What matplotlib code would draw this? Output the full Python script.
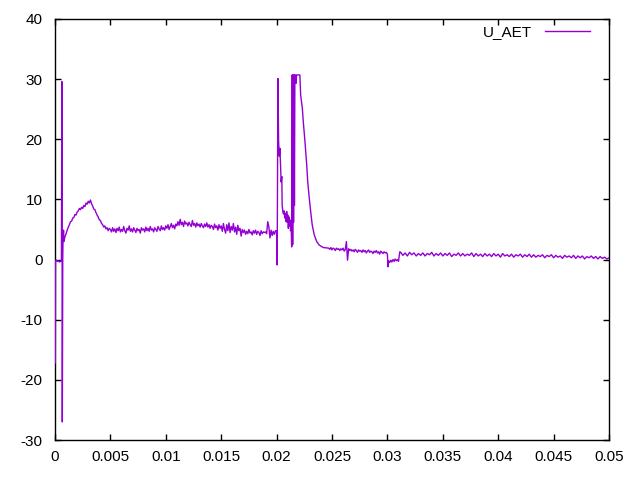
import numpy as np
import matplotlib
matplotlib.use("Agg")
import matplotlib.pyplot as plt

# ---- data ----
t_start = [0.00003, 0.00005, 0.0001, 0.0002, 0.0003, 0.0004, 0.0005, 0.00058, 0.00062, 0.00066,
           0.00070, 0.00072, 0.00077, 0.0008, 0.0009, 0.0010, 0.0011, 0.0012, 0.0013, 0.0014,
           0.0015, 0.0016, 0.0017, 0.0018, 0.0019, 0.0020, 0.0021, 0.0022, 0.0023, 0.0024,
           0.0025, 0.0026, 0.0027, 0.0028, 0.0029, 0.0030, 0.0031, 0.0032, 0.0033, 0.0034,
           0.0035, 0.0036, 0.0037, 0.0038, 0.0039, 0.0040, 0.0041, 0.0042, 0.0043, 0.0044,
           0.0045, 0.0046, 0.0047, 0.0048, 0.0049]
u_start = [-17.2, -0.2, -0.1, -0.3, -0.2, -0.4, -0.3, -0.2, 29.6, -27.0,
           0.2, 2.7, 4.9, 3.0, 3.8, 4.3, 4.9, 5.4, 5.8, 6.3,
           6.4, 6.9, 7.0, 7.5, 7.4, 7.9, 8.1, 8.5, 8.3, 8.7,
           8.5, 9.0, 8.8, 9.4, 9.2, 9.7, 9.4, 9.9, 9.3, 8.9,
           8.4, 8.3, 7.8, 7.4, 7.1, 6.6, 6.5, 6.0, 5.8, 5.4,
           5.6, 5.1, 5.3, 4.8, 5.2]

u_mid = [5.0, 4.6, 5.3, 4.7, 5.1, 4.5, 5.2, 4.8, 5.4, 4.6,
         5.0, 4.7, 5.5, 4.8, 4.4, 5.2, 4.9, 5.6, 4.7, 5.1,
         4.6, 5.3, 4.9, 4.5, 5.2, 4.8, 5.0, 4.4, 5.3, 4.9,
         5.1, 4.6, 5.4, 4.8, 5.2, 4.7, 5.5, 4.9, 5.1, 4.6,
         5.3, 5.0, 4.7, 5.5, 5.1, 4.8, 5.6, 5.0, 5.3, 4.9,
         5.6, 5.2, 5.8, 5.0, 5.5, 6.0, 5.3, 5.7, 5.1, 5.9,
         5.6, 6.3, 5.7, 6.7, 5.8, 6.2, 5.5, 6.4, 5.9, 6.1,
         5.6, 6.2, 5.8, 5.5, 6.5, 5.7, 6.0, 5.4, 6.1, 5.6,
         5.9, 5.4, 6.0, 5.6, 5.3, 5.9, 5.5, 6.1, 5.4, 5.8,
         5.2, 5.7, 5.5, 5.0, 5.9, 5.3, 5.6, 4.9, 5.8, 5.2,
         5.6, 4.7, 6.0, 5.0, 4.4, 5.8, 4.8, 6.1, 4.5, 5.5,
         4.9, 6.0, 4.6, 5.4, 4.2, 5.7, 4.8, 5.2, 3.9, 5.0,
         4.5, 4.9, 4.2, 4.7, 4.3, 5.0, 4.4, 4.6, 4.1, 4.8,
         4.4, 4.9, 4.2, 4.7, 4.5, 4.0, 4.8, 4.3, 4.6, 4.5,
         4.6, 4.3, 6.3, 5.5, 3.6, 4.9, 4.0, 4.7, 4.2, 4.8]
t_mid_range = (0.0050, 0.0199)

t_spike = [0.02000, 0.02005, 0.02012, 0.02018, 0.02024, 0.02030, 0.02036, 0.02041, 0.02047, 0.02050,
           0.02056, 0.02062, 0.02068, 0.02074, 0.02080, 0.02086, 0.02091, 0.02096, 0.02101, 0.02106,
           0.02111, 0.02116, 0.02121, 0.02126, 0.02131, 0.02136, 0.02141, 0.02145, 0.02149, 0.02153,
           0.02157, 0.02161, 0.02165, 0.02170, 0.02175, 0.02180, 0.02190, 0.02200, 0.02210, 0.02217,
           0.02232, 0.02241, 0.02256, 0.02272, 0.02281, 0.02295, 0.02308, 0.02322, 0.02340, 0.02362,
           0.02385, 0.02421, 0.02467]
u_spike = [4.8, -0.9, 30.1, 19.8, 17.2, 18.5, 15.7, 12.9, 13.8, 9.1,
           8.0, 7.6, 8.1, 6.9, 7.7, 6.3, 8.0, 6.2, 7.4, 5.2,
           7.1, 5.6, 6.6, 4.8, 5.9, 2.1, 30.7, 2.5, 30.7, 6.2,
           30.7, 9.0, 30.7, 30.7, 29.3, 30.7, 30.7, 30.7, 30.7, 27.4,
           25.2, 22.9, 19.6, 15.7, 12.9, 10.2, 7.9, 5.7, 4.1, 3.0,
           2.4, 2.0, 1.9]

u_tail1 = [1.9, 1.7, 2.0, 1.6, 1.9, 1.8, 1.5, 1.9, 1.7, 1.8,
           1.5, 1.8, 1.6, 1.9, 1.4, 1.7, 3.0, -0.1, 1.8, 1.5,
           1.7, 1.4, 1.6, 1.3, 1.7, 1.5, 1.2, 1.6, 1.4, 1.5,
           1.2, 1.6, 1.3, 1.5, 1.1, 1.4, 1.6, 1.2, 1.4, 1.3,
           1.0, 1.4, 1.2, 1.5, 1.1, 1.3, 0.9, 1.4, 1.2, 1.0,
           1.3, 1.1, 1.2, 0.9]
t_tail1_range = (0.0247, 0.0300)

t_dip = [0.03005, 0.0301, 0.0302, 0.0303, 0.0304, 0.0305, 0.0306, 0.0307, 0.0308, 0.0309, 0.0310, 0.03112]
u_dip = [-1.2, -0.2, -0.5, -0.1, -0.4, 0.0, -0.3, 0.1, -0.2, 0.0, -0.3, 1.3]

u_tail2 = [1.2, 0.7, 1.1, 0.6, 1.2, 0.8, 1.1, 0.6, 1.0, 0.7,
           1.1, 0.6, 1.0, 0.8, 1.2, 0.6, 1.0, 0.7, 1.1, 0.6,
           1.0, 0.7, 1.1, 0.5, 0.9, 0.7, 1.1, 0.6, 1.0, 0.6,
           0.9, 0.7, 1.1, 0.5, 1.0, 0.6, 0.9, 0.5, 1.0, 0.6,
           0.9, 0.5, 1.0, 0.6, 0.9, 0.4, 1.0, 0.6, 0.8, 0.5,
           0.9, 0.4, 0.8, 0.6, 0.9, 0.4, 0.8, 0.5, 0.9, 0.4,
           0.8, 0.4, 0.7, 0.5, 0.8, 0.3, 0.7, 0.5, 0.8, 0.3,
           0.7, 0.4, 0.6, 0.2, 0.7, 0.4, 0.6, 0.3, 0.7, 0.2,
           0.6, 0.3, 0.6, 0.1, 0.5, 0.3, 0.6, 0.2, 0.5, 0.1,
           0.5, 0.2, 0.4, 0.1, 0.3]
t_tail2_range = (0.0312, 0.0500)

x_ticks = [0, 0.005, 0.01, 0.015, 0.02, 0.025, 0.03, 0.035, 0.04, 0.045, 0.05]
x_tick_labels = ["0", "0.005", "0.01", "0.015", "0.02", "0.025", "0.03", "0.035", "0.04", "0.045", "0.05"]
y_ticks = [-30, -20, -10, 0, 10, 20, 30, 40]
series_label = "U_AET"

# ---- assemble sampled series ----
t_mid = np.linspace(t_mid_range[0], t_mid_range[1], len(u_mid))
t_tail1 = np.linspace(t_tail1_range[0], t_tail1_range[1], len(u_tail1))
t_tail2 = np.linspace(t_tail2_range[0], t_tail2_range[1], len(u_tail2))
t = np.concatenate([t_start, t_mid, t_spike, t_tail1, t_dip, t_tail2])
u = np.concatenate([u_start, u_mid, u_spike, u_tail1, u_dip, u_tail2])

plt.rcParams['font.family'] = ['Liberation Sans', 'DejaVu Sans']
plt.rcParams['axes.unicode_minus'] = False
fig = plt.figure(figsize=(6.4, 4.8), dpi=100)
ax = fig.add_axes([55/640, 40/480, (609-55)/640, (440-19)/480])
ax.plot(t, u, color='#9400D3', lw=1.0, label=series_label, zorder=3)
ax.set_xlim(0, 0.05)
ax.set_ylim(-30, 40)
ax.set_xticks(x_ticks)
ax.set_xticklabels(x_tick_labels)
ax.set_yticks(y_ticks)
ax.tick_params(direction='in', length=4, width=1, top=True, right=True,
               labelsize=11, colors='black')
ax.tick_params(axis='x', pad=7.5)
ax.tick_params(axis='y', pad=9)
for s in ax.spines.values():
    s.set_linewidth(1)
    s.set_zorder(2.5)
ax.legend(loc='upper right', frameon=False, markerfirst=False, fontsize=11,
          handlelength=2.95, handletextpad=0.85, borderpad=0, borderaxespad=0,
          bbox_to_anchor=((590-55)/554, (440-25)/421))
fig.savefig("out.png", dpi=100)
